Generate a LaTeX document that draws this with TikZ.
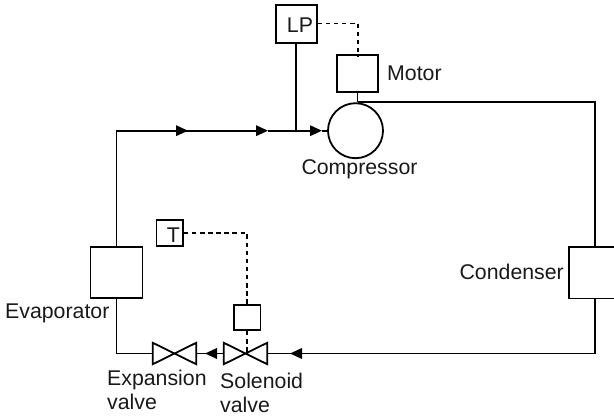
\documentclass[tikz,border=0pt]{standalone}
\usepackage{fontspec}
\setmainfont{Liberation Sans}
\usetikzlibrary{arrows.meta}
\tikzset{
  x=1pt,y=-1pt,
  pipe/.style={draw=black,line width=1.8pt},
  flow/.style={pipe,-{Triangle[length=12pt,width=10.5pt]}},
  signal/.style={draw=black,line width=1.5pt,dash pattern=on 4.5pt off 3.6pt},
  unitbox/.style={draw=black,line width=1.8pt,fill=white,inner sep=0pt,minimum width=#1},
  valvebody/.style={inner sep=0pt,minimum width=43pt,minimum height=21pt},
  bowtie/.style={draw=black,line width=1.8pt,line join=miter},
  lbl/.style={inner sep=0pt,font=\fontsize{21.3}{24}\selectfont,text=black!90},
}
\begin{document}
\begin{tikzpicture}
\useasboundingbox (0,0) rectangle (614,417);
\clip (0,0) rectangle (614,417);
% units
\node[unitbox=41pt,minimum height=38pt] (lp) at (296.2,23.7) {};
\node[unitbox=41pt,minimum height=37pt] (motor) at (357.5,73.5) {};
\node[circle,draw=black,line width=1.8pt,inner sep=0pt,minimum size=55pt] (comp) at (355.5,130.7) {};
\node[unitbox=52pt,minimum height=51pt] (evap) at (116.5,272.5) {};
\node[unitbox=52pt,minimum height=51.5pt] (cond) at (595,272.7) {};
\node[unitbox=26.5pt,minimum height=26pt] (tsense) at (169.7,233) {};
\node[unitbox=26.5pt,minimum height=25pt] (sol) at (247.2,317.5) {};
\node[valvebody] (ev) at (174.5,353.5) {};
\node[valvebody] (sv) at (245.5,353.5) {};
% coordinates on the lines
\coordinate (c1) at (116.5,130.7);
\coordinate (t1) at (188,130.7);
\coordinate (t2) at (268,130.7);
\coordinate (tee) at (lp.south |- comp.west);
\coordinate (t3) at (322,130.7);
\coordinate (top) at (357.5,102);
\coordinate (c2) at (595,102);
\coordinate (c3) at (595,353.5);
\coordinate (t4) at (290,353.5);
\coordinate (t5) at (205,353.5);
\coordinate (c4) at (116.5,353.5);
\coordinate (d1) at (358,23.5);
\coordinate (d2) at (247.2,233);
% pipes
\draw[pipe] (evap.north) -- (c1) -- (t1);
\draw[flow] (c1) -- (t1);
\draw[flow] (t1) -- (t2);
\draw[pipe] (t2) -- (tee);
\draw[flow] (tee) -- (t3);
\draw[pipe] (t3) -- (comp.west);
\draw[pipe] (lp.south) -- (tee);
\draw[pipe] (motor.south) -- (top);
\draw[pipe] (top) -- (c2) -- (cond.north);
\draw[pipe] (cond.south) -- (c3) -- (sv.east);
\draw[flow] (c3) -- (t4);
\draw[pipe] (sv.west) -- (ev.east);
\draw[flow] (sv.west) -- (t5);
\draw[pipe] (ev.west) -- (c4) -- (evap.south);
% valves
\draw[bowtie] (ev.north west) -- (ev.south east) -- (ev.north east) -- (ev.south west) -- cycle;
\draw[bowtie] (sv.north west) -- (sv.south east) -- (sv.north east) -- (sv.south west) -- cycle;
% signal lines
\draw[signal] (lp.east |- d1) -- (d1) -- ([yshift=-3pt]motor.north -| d1);
\draw[signal] (tsense.east) -- (d2) -- ([yshift=-2pt]sol.north);
\draw[signal] (sol.south) -- (sol.south |- sv.center);
% labels
\node[lbl] (lplabel) at (300,25) {LP};
\node[lbl] (tlabel) at (173.5,235) {T};
\node[lbl,anchor=west] (motorlabel) at (387,73) {Motor};
\node[lbl,anchor=center] (complabel) at (359.5,169) {Compressor};
\node[lbl,anchor=east] (condlabel) at (564,272) {Condenser};
\node[lbl,anchor=west] (evaplabel) at (5,313) {Evaporator};
\node[lbl,anchor=north west,align=left] (evlabel) at (107,369.5) {Expansion\\valve};
\node[lbl,anchor=north west,align=left] (svlabel) at (220,373) {Solenoid\\valve};
\end{tikzpicture}
\end{document}
